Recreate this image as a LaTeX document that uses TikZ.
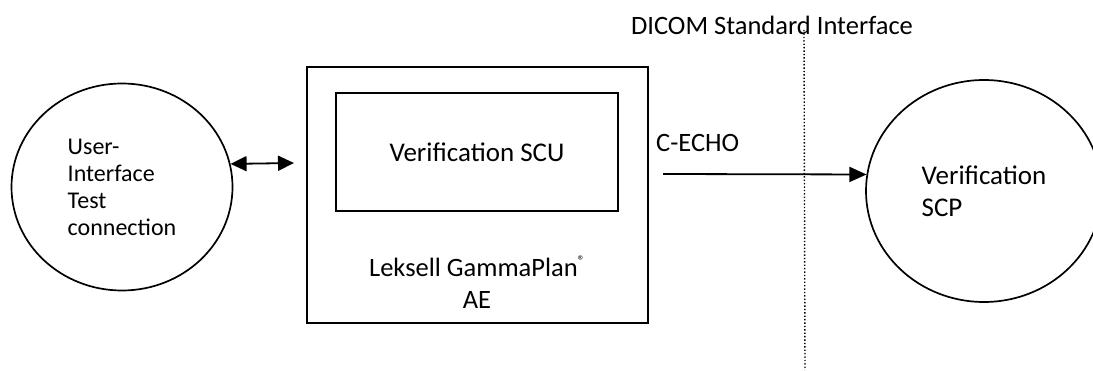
\documentclass[tikz,border=0pt]{standalone}
\usepackage{fontspec}
\setmainfont{Carlito}
\usetikzlibrary{shapes.geometric,arrows.meta}
\begin{document}
\begin{tikzpicture}[x=1pt,y=-1pt,
  every node/.style={font=\fontsize{26.5}{32}\selectfont},
  circ/.style={draw,ellipse,line width=1.7pt,inner sep=0pt,align=left},
  boxx/.style={draw,rectangle,line width=1.7pt,inner sep=0pt},
  arr/.style={line width=1.8pt,-{Triangle[length=17pt,width=15pt]}},
  darr/.style={line width=1.8pt,{Triangle[length=16pt,width=15pt]}-{Triangle[length=16pt,width=15pt]}}]
\useasboundingbox (0,0) rectangle (1093,371);
\node[circ,minimum width=221pt,minimum height=207pt,font=\fontsize{24}{27}\selectfont] (ui) at (122,187) {User-\\Interface\\Test\\connection};
\node[boxx,minimum width=341pt,minimum height=256pt] (ae) at (477.5,195) {};
\node[boxx,minimum width=282pt,minimum height=118pt,font=\fontsize{27}{32}\selectfont] (scu) at (477,152) {Verification SCU};
\node[align=center,font=\fontsize{26.5}{32}\selectfont] (lgp) at (477,282) {Leksell GammaPlan\raisebox{11pt}{\fontsize{14}{14}\selectfont ®}\\AE};
\node[circ,minimum width=236pt,minimum height=222pt,font=\fontsize{27}{32}\selectfont] (scp) at (984,191) {Verification\\SCP};
\coordinate (uaend) at (294,163);
\draw[darr] (ui.12) -- (uaend);
\coordinate (echostart) at (663,174);
\draw[arr] (echostart) -- (scp.172);
\node[anchor=west,inner sep=0pt] (echo) at (656,143) {C-ECHO};
\node[font=\fontsize{26.5}{30}\selectfont] (dicom) at (772,25) {DICOM Standard Interface};
\coordinate (dtop) at (804,30);
\coordinate (dbot) at (805,370);
\draw[dotted,line width=1.4pt] (dtop) -- (dbot);
\end{tikzpicture}
\end{document}
